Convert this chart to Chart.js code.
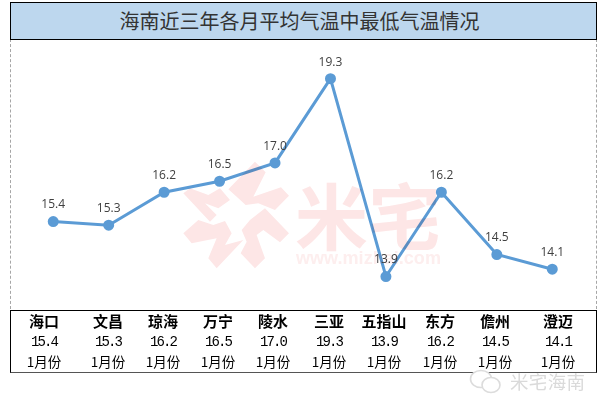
<!DOCTYPE html>
<html><head><meta charset="utf-8">
<script src="https://cdn.jsdelivr.net/npm/chart.js@4/dist/chart.umd.min.js"></script>
<style>
html,body{margin:0;padding:0;background:#fff;width:606px;height:411px;overflow:hidden}
#wrap{position:relative;width:606px;height:411px;font-family:"Noto Sans CJK SC",sans-serif}
canvas{position:absolute;left:0;top:0}
#title{position:absolute;left:10px;top:2px;width:577px;padding-right:8px;height:36px;background:#bdd7ee;border:1px solid #000;border-width:1.5px;
 text-align:center;line-height:36px;font-size:20px;color:#333;box-sizing:content-box}
#plot{position:absolute;left:10px;top:39px;width:585px;height:270px;border-left:1px dashed #a6a6a6;border-right:1px dashed #a6a6a6}
#tbl{position:absolute;left:10px;top:310px;width:585px;height:61px;border:1px solid #000;border-top-width:1.5px;border-bottom:1.5px solid #555}
.c{position:absolute;transform:translateX(-50%);white-space:nowrap;text-align:center;color:#000}
.h{top:312px;font-weight:700;font-size:15px;line-height:18px}
.v{top:335px;font-family:"Liberation Mono",monospace;font-size:14px;letter-spacing:-1.9px;line-height:14px}
.m{top:352px;font-size:13.5px;line-height:19px}
#wm{position:absolute;left:0;top:0;width:606px;height:411px;mix-blend-mode:multiply;pointer-events:none}
</style></head><body>
<div id="wrap">
<div id="plot"></div>
<canvas id="c" width="606" height="411"></canvas>
<svg id="wm" viewBox="0 0 606 411">
<g transform="translate(175 155) scale(.3333)" fill="#fde6e6">
<polygon points="160,103 240,20 272,52 235,125 318,97 342,122 300,165 250,145 212,150 185,125"/>
<polygon points="25,115 45,100 100,120 135,100 165,135 130,160 90,145 125,180 105,200"/>
<polygon points="25,235 70,195 115,210 150,198 170,235 150,270 205,255 125,340 100,310 125,250 50,265"/>
<polygon points="200,225 225,195 270,160 342,235 315,262 265,225 245,240 270,310 240,340 197,295 215,260"/>
</g>
<text x="295" y="244" font-family="Noto Sans CJK SC" font-weight="700" font-size="72" fill="#fde6e6" textLength="146" lengthAdjust="spacingAndGlyphs">米宅</text>
<text x="296" y="264" font-family="Liberation Sans" font-weight="700" font-size="19" fill="#fdeeee" textLength="145" lengthAdjust="spacingAndGlyphs">www.mizhai.com</text>
</svg>
<div id="title">海南近三年各月平均气温中最低气温情况</div>
<div id="tbl"></div>
<div id="cells"></div>
<svg style="position:absolute;left:0;top:0" width="606" height="411" viewBox="0 0 606 411">
<g fill="#fff" stroke="#dcdcdc" stroke-width="1.6">
<ellipse cx="481" cy="379" rx="10.5" ry="8.5"/>
<ellipse cx="491" cy="385" rx="9" ry="7.5"/>
</g>
<text x="510" y="389" font-family="Noto Sans CJK SC" font-size="18.5" fill="#dadada" textLength="75">米宅海南</text>
</svg>
</div>
<script>
const cities = ['海口','文昌','琼海','万宁','陵水','三亚','五指山','东方','儋州','澄迈'];
const temps = [15.4,15.3,16.2,16.5,17.0,19.3,13.9,16.2,14.5,14.1];
const months = ['1月份','1月份','1月份','1月份','1月份','1月份','1月份','1月份','1月份','1月份'];
const cellCenters = [44,108,163,218,273,329,384,440,495,558];

const cells = document.getElementById('cells');
cities.forEach((n,i)=>{
  [['h',n],['v',temps[i].toFixed(1)],['m',months[i]]].forEach(([k,t])=>{
    const d=document.createElement('div');d.className='c '+k;d.style.left=cellCenters[i]+'px';d.textContent=t;cells.appendChild(d);
  });
});

const valueLabels = {
  id:'valueLabels',
  afterDatasetsDraw(chart){
    const ctx=chart.ctx, meta=chart.getDatasetMeta(0);
    ctx.save();
    ctx.font='12px "Open Sans"';ctx.fillStyle='#404040';ctx.textAlign='center';ctx.textBaseline='middle';
    meta.data.forEach((p,i)=>ctx.fillText(temps[i].toFixed(1),p.x,p.y-16.5));
    ctx.restore();
  }
};
new Chart(document.getElementById('c'),{
  type:'line',
  data:{labels:cities,datasets:[{data:temps,borderColor:'#5b9bd5',backgroundColor:'#5b9bd5',borderWidth:3,
    pointRadius:4,pointHoverRadius:4,pointBackgroundColor:'#5b9bd5',pointBorderColor:'#5b9bd5',tension:0,clip:false}]},
  options:{responsive:false,animation:false,devicePixelRatio:1,
    layout:{padding:{left:25.5,right:26,top:53,bottom:101.5}},
    plugins:{legend:{display:false},tooltip:{enabled:false},title:{display:false}},
    scales:{x:{display:false,offset:true,grid:{display:false}},
            y:{display:false,min:13,max:20,grid:{display:false}}}},
  plugins:[valueLabels]
});
</script>
</body></html>
